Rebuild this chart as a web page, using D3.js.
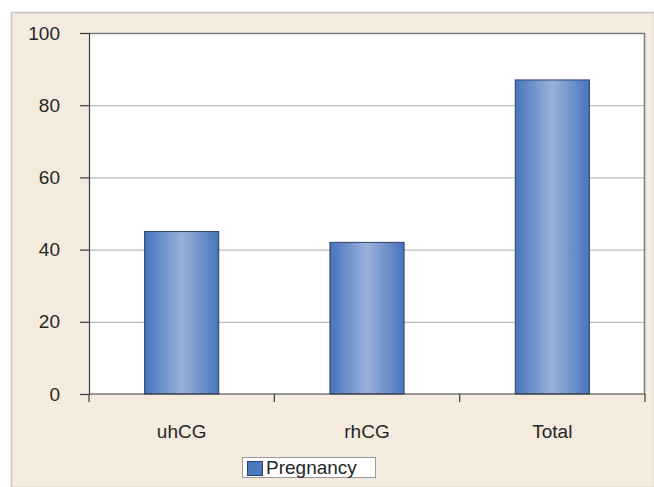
<!DOCTYPE html>
<html>
<head>
<meta charset="utf-8">
<script src="https://cdn.jsdelivr.net/npm/d3@7"></script>
<style>
  html, body { margin: 0; padding: 0; background: #ffffff; }
  svg { display: block; }
  text { font-family: "Liberation Sans", Arial, sans-serif; fill: #262626; }
</style>
</head>
<body>
<svg id="chart" width="654" height="487"></svg>
<script>
// Chart data
const categories = ["uhCG", "rhCG", "Total"];
const pregnancy = [45, 42, 87];
const yTicks = [0, 20, 40, 60, 80, 100];
const seriesName = "Pregnancy";

const W = 654, H = 487;
const plot = { left: 89, right: 645, top: 33, bottom: 394 };
const FONT = 19;

const svg = d3.select("#chart");

// Gradient for the bars: dark blue edges, lighter centre
const defs = svg.append("defs");
const grad = defs.append("linearGradient")
  .attr("id", "barGrad").attr("x1", "0%").attr("x2", "100%").attr("y1", "0%").attr("y2", "0%");
grad.append("stop").attr("offset", "0%").attr("stop-color", "#4674bd");
grad.append("stop").attr("offset", "50%").attr("stop-color", "#9bb2da");
grad.append("stop").attr("offset", "100%").attr("stop-color", "#4674bd");

// Chart area background
svg.append("rect")
  .attr("x", 11.5).attr("y", 12.5).attr("width", W - 11).attr("height", H - 12)
  .attr("fill", "#f4eadd").attr("stroke", "#c8c2bb").attr("stroke-width", 1.5);

// Plot area
svg.append("rect")
  .attr("x", plot.left).attr("y", plot.top)
  .attr("width", plot.right - plot.left).attr("height", plot.bottom - plot.top)
  .attr("fill", "#ffffff");

const xOuter = d3.scaleBand().domain(categories).range([plot.left, plot.right]);
const y = d3.scaleLinear().domain([0, 100]).range([plot.bottom, plot.top]);

// Gridlines
svg.append("g").selectAll("line")
  .data(yTicks.filter(t => t > 0 && t < 100))
  .join("line")
  .attr("x1", plot.left).attr("x2", plot.right)
  .attr("y1", d => y(d) + 0.5).attr("y2", d => y(d) + 0.5)
  .attr("stroke", "#a9a9a9").attr("stroke-width", 1);

// Plot area top and right frame
svg.append("path")
  .attr("d", `M${plot.left},${plot.top + 0.5}H${plot.right - 0.5}V${plot.bottom}`)
  .attr("fill", "none").attr("stroke", "#7d7d7d").attr("stroke-width", 1.5);

// Bars
const bw = xOuter.bandwidth() * 0.4;
svg.append("g").selectAll("rect")
  .data(categories.map((c, i) => ({ c, v: pregnancy[i] })))
  .join("rect")
  .attr("x", d => xOuter(d.c) + (xOuter.bandwidth() - bw) / 2)
  .attr("y", d => y(d.v))
  .attr("width", bw)
  .attr("height", d => y(0) - y(d.v))
  .attr("fill", "url(#barGrad)")
  .attr("stroke", "#2c3f66").attr("stroke-width", 1);

// Y axis
const yAxis = d3.axisLeft(y).tickValues(yTicks).tickSize(9).tickPadding(20);
const gy = svg.append("g").attr("transform", `translate(${plot.left},0)`).call(yAxis);
gy.select(".domain").attr("stroke", "#3a3a3a").attr("stroke-width", 1.2);
gy.selectAll(".tick line").attr("stroke", "#3a3a3a").attr("stroke-width", 1.2);
gy.selectAll(".tick text").attr("font-size", FONT).attr("fill", "#262626")
  .attr("font-family", "Liberation Sans, Arial, sans-serif");

// X axis with ticks at category boundaries
const gx = svg.append("g").attr("transform", `translate(0,${plot.bottom})`);
gx.append("line").attr("x1", plot.left).attr("x2", plot.right)
  .attr("stroke", "#3a3a3a").attr("stroke-width", 1.2);
const bounds = categories.map(c => xOuter(c)).concat([plot.right]);
gx.selectAll("line.tk").data(bounds).join("line").attr("class", "tk")
  .attr("x1", d => d).attr("x2", d => d).attr("y1", 0).attr("y2", 8)
  .attr("stroke", "#3a3a3a").attr("stroke-width", 1.2);
gx.selectAll("text").data(categories).join("text")
  .attr("x", d => xOuter(d) + xOuter.bandwidth() / 2)
  .attr("y", 44)
  .attr("text-anchor", "middle")
  .attr("font-size", FONT)
  .text(d => d);

// Legend
const lg = svg.append("g").attr("transform", "translate(242,457)");
lg.append("rect").attr("x", 0.5).attr("y", 0.5).attr("width", 133).attr("height", 20)
  .attr("fill", "#ffffff").attr("stroke", "#9a9a9a").attr("stroke-width", 1);
lg.append("rect").attr("x", 5.5).attr("y", 4.5).attr("width", 15).attr("height", 14)
  .attr("fill", "#4a78bf").attr("stroke", "#2c3f66").attr("stroke-width", 1);
lg.append("text").attr("x", 24).attr("y", 17).attr("font-size", FONT).text(seriesName);
</script>
</body>
</html>
